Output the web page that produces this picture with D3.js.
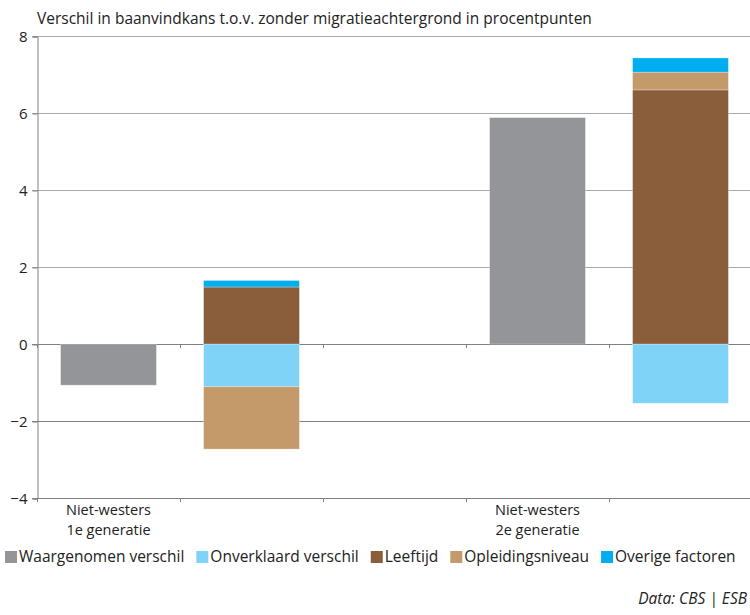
<!DOCTYPE html>
<html>
<head>
<meta charset="utf-8">
<script src="https://cdn.jsdelivr.net/npm/d3@7"></script>
<style>
  body { margin: 0; background: #fff; }
  svg { display: block; font-family: "Open Sans", Lato, sans-serif; }
</style>
</head>
<body>
<div id="chart"></div>
<script>
// categories on the x axis (two groups: observed + decomposed, with an empty slot between)
const categories = ["nw1_waar", "nw1_ontleed", "leeg", "nw2_waar", "nw2_ontleed"];
const tickLabels = [["Niet-westers", "1e generatie"], [], [], ["Niet-westers", "2e generatie"], []];

// series values (procentpunten)
const waargenomen = [-1.07, 0, 0, 5.88, 0];
const onverklaard = [0, -1.11, 0, 0, -1.54];
const leeftijd    = [0, 1.48, 0, 0, 6.60];
const opleiding   = [0, -1.62, 0, 0, 0.46];
const overige     = [0, 0.17, 0, 0, 0.37];

const seriesKeys = ["Waargenomen verschil", "Onverklaard verschil", "Leeftijd", "Opleidingsniveau", "Overige factoren"];
const seriesValues = [waargenomen, onverklaard, leeftijd, opleiding, overige];
const colors = ["#939598", "#7fd3f7", "#8a5d3b", "#c49a6a", "#00aeef"];

const yTicks = [-4, -2, 0, 2, 4, 6, 8];

const width = 750, height = 615;
const margin = {top: 36, right: -2, bottom: 117, left: 37};
const fontSize = "15.5px";

const rows = categories.map((c, i) => {
  const r = {cat: c};
  seriesKeys.forEach((k, j) => r[k] = seriesValues[j][i]);
  return r;
});

const svg = d3.select("#chart")
  .append("svg")
    .attr("width", width)
    .attr("height", height);

const x = d3.scaleBand()
  .domain(categories)
  .range([margin.left, width - margin.right])
  .paddingInner(0.33)
  .paddingOuter(0.165);

const y = d3.scaleLinear()
  .domain([-4, 8])
  .range([height - margin.bottom, margin.top]);

// title
svg.append("text")
  .attr("x", margin.left)
  .attr("y", 24)
  .style("font-size", fontSize)
  .attr("fill", "#222")
  .text("Verschil in baanvindkans t.o.v. zonder migratieachtergrond in procentpunten");

// gridlines
svg.append("g")
  .selectAll("line")
  .data(yTicks)
  .join("line")
    .attr("x1", margin.left - 5)
    .attr("x2", width)
    .attr("y1", d => y(d) + 0.5)
    .attr("y2", d => y(d) + 0.5)
    .attr("stroke", d => d > 0 ? "#aaa" : "#808080")
    .attr("stroke-width", 1);

// y axis
const yAxis = svg.append("g")
  .attr("transform", `translate(${margin.left + 0.5}, 0.5)`)
  .call(d3.axisLeft(y)
        .tickValues(yTicks)
        .tickSize(5)
        .tickFormat(d => d < 0 ? "\u2212" + Math.abs(d) : d));
yAxis.select(".domain").attr("stroke", "#808080");
yAxis.selectAll(".tick line").attr("stroke", "#808080");
yAxis.selectAll("text")
  .style("font-size", "15px")
  .style("font-family", "'Open Sans', sans-serif")
  .attr("fill", "#222")
  .attr("dx", "-2px");

// stacked bars
const stack = d3.stack()
  .keys(seriesKeys)
  .offset(d3.stackOffsetDiverging);
const stacked = stack(rows);

svg.append("g")
  .selectAll("g")
  .data(stacked)
  .join("g")
    .attr("fill", (d, i) => colors[i])
  .selectAll("rect")
  .data(d => d.filter(s => s[1] - s[0] !== 0))
  .join("rect")
    .attr("x", d => x(d.data.cat))
    .attr("width", x.bandwidth())
    .attr("y", d => y(Math.max(d[0], d[1])))
    .attr("height", d => Math.abs(y(d[0]) - y(d[1])))
    .attr("stroke", "#fff")
    .attr("stroke-opacity", 0.35)
    .attr("stroke-width", 0.8);

// x axis ticks at zero line and at bottom
const bandEdges = categories.map(c => x(c) - x.step() * x.paddingInner() / 2).concat([width - margin.right]);

[0, -4].forEach(v => {
  svg.append("g")
    .selectAll("line")
    .data(bandEdges)
    .join("line")
      .attr("x1", d => Math.round(d) + 0.5)
      .attr("x2", d => Math.round(d) + 0.5)
      .attr("y1", y(v))
      .attr("y2", y(v) + 4)
      .attr("stroke", "#808080");
});

// category labels
const xLabels = svg.append("g")
  .selectAll("text")
  .data(categories)
  .join("text")
    .attr("x", d => x(d) + x.bandwidth() / 2)
    .attr("y", y(-4) + 17)
    .attr("text-anchor", "middle")
    .style("font-size", "14.5px")
    .attr("fill", "#222");
xLabels.selectAll("tspan")
  .data((d, i) => tickLabels[i])
  .join("tspan")
    .attr("x", function() { return d3.select(this.parentNode).attr("x"); })
    .attr("dy", (d, i) => i === 0 ? 0 : 20)
    .text(d => d);

// legend
const legend = svg.append("g")
  .attr("id", "legend")
  .attr("transform", `translate(5, 562)`);
let lx = 0;
seriesKeys.forEach((k, i) => {
  const item = legend.append("g").attr("transform", `translate(${lx}, 0)`);
  item.append("rect")
    .attr("x", 0)
    .attr("y", -11)
    .attr("width", 12)
    .attr("height", 12)
    .attr("fill", colors[i]);
  const t = item.append("text")
    .attr("x", 14)
    .attr("y", 0)
    .style("font-size", fontSize)
    .attr("fill", "#222")
    .text(k);
  lx += 14 + t.node().getComputedTextLength() + 12;
});

// source
svg.append("text")
  .attr("x", 747)
  .attr("y", 604)
  .attr("text-anchor", "end")
  .style("font-size", fontSize)
  .style("font-style", "italic")
  .attr("fill", "#222")
  .text("Data: CBS | ESB");
</script>
</body>
</html>
